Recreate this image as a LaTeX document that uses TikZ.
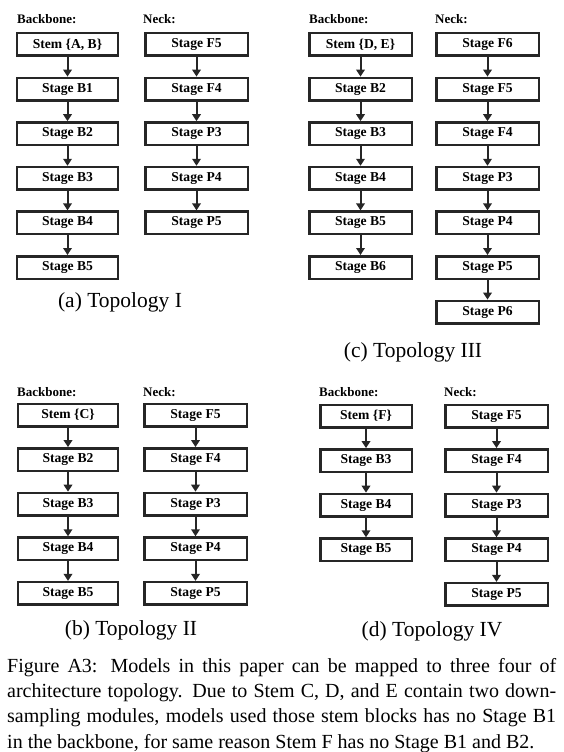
\documentclass[tikz,border=0pt]{standalone}
\usepackage{fontspec}
\setmainfont{Liberation Serif}
\usepackage{tikz}
\usetikzlibrary{arrows.meta}
\usetikzlibrary{positioning}
\tikzset{stage/.style={draw=black!85,line width=2.5pt,minimum width=102.5pt,minimum height=22.5pt,inner sep=0pt,font=\fontsize{13.6}{15}\selectfont\bfseries}}
\tikzset{flow/.style={draw=black!85,line width=2pt,-{Triangle[length=7pt,width=8.5pt]}}}
\tikzset{head/.style={anchor=base west,inner sep=0pt,font=\fontsize{13}{15}\selectfont\bfseries}}
\tikzset{sub/.style={inner sep=0pt,font=\fontsize{21.5}{24}\selectfont}}
\begin{document}
\begin{tikzpicture}[x=1pt,y=-1pt]
\useasboundingbox (0,0) rectangle (563,752);

% (a) Topology I
\node (Ahb) at (17,24) [head] {Backbone:};
\node (Ahn) at (143,24) [head] {Neck:};
\foreach \lbl [count=\i] in {{Stem \{A, B\}},Stage B1,Stage B2,Stage B3,Stage B4,Stage B5}
	\node (Ab\i) at (67.5,44.6*\i-0.1) [stage,minimum width=101pt] {\lbl};
\foreach \lbl [count=\i] in {Stage F5,Stage F4,Stage P3,Stage P4,Stage P5}
	\node (An\i) at (196.5,44.6*\i-0.1) [stage] {\lbl};
\foreach \i / \j in {1/2,2/3,3/4,4/5,5/6}
	\draw[flow] (Ab\i) -- (Ab\j);
\foreach \i / \j in {1/2,2/3,3/4,4/5}
	\draw[flow] (An\i) -- (An\j);
\node (Acap) at (120,302) [sub] {(a) Topology I};

% (c) Topology III
\node (Chb) at (309,24) [head] {Backbone:};
\node (Chn) at (435,24) [head] {Neck:};
\foreach \lbl [count=\i] in {{Stem \{D, E\}},Stage B2,Stage B3,Stage B4,Stage B5,Stage B6}
	\node (Cb\i) at (360.5,44.6*\i-0.1) [stage] {\lbl};
\foreach \lbl [count=\i] in {Stage F6,Stage F5,Stage F4,Stage P3,Stage P4,Stage P5,Stage P6}
	\node (Cn\i) at (487.5,44.6*\i-0.1) [stage] {\lbl};
\foreach \i / \j in {1/2,2/3,3/4,4/5,5/6}
	\draw[flow] (Cb\i) -- (Cb\j);
\foreach \i / \j in {1/2,2/3,3/4,4/5,5/6,6/7}
	\draw[flow] (Cn\i) -- (Cn\j);
\node (Ccap) at (413,352) [sub] {(c) Topology III};

% (b) Topology II
\node (Bhb) at (17,396) [head] {Backbone:};
\node (Bhn) at (143,396) [head] {Neck:};
\foreach \lbl [count=\i] in {{Stem \{C\}},Stage B2,Stage B3,Stage B4,Stage B5}
	\node (Bb\i) at (68,370.4+44.6*\i) [stage,minimum width=100pt] {\lbl};
\foreach \lbl [count=\i] in {Stage F5,Stage F4,Stage P3,Stage P4,Stage P5}
	\node (Bn\i) at (195.5,370.4+44.6*\i) [stage] {\lbl};
\foreach \i / \j in {1/2,2/3,3/4,4/5}
{
	\draw[flow] (Bb\i) -- (Bb\j);
	\draw[flow] (Bn\i) -- (Bn\j);
}
\node (Bcap) at (131,630) [sub] {(b) Topology II};

% (d) Topology IV
\node (Dhb) at (319,396) [head] {Backbone:};
\node (Dhn) at (444,396) [head] {Neck:};
\foreach \lbl [count=\i] in {{Stem \{F\}},Stage B3,Stage B4,Stage B5}
	\node (Db\i) at (366,371.4+44.6*\i) [stage,minimum width=91.5pt] {\lbl};
\foreach \lbl [count=\i] in {Stage F5,Stage F4,Stage P3,Stage P4,Stage P5}
	\node (Dn\i) at (496.5,371.4+44.6*\i) [stage] {\lbl};
\foreach \i / \j in {1/2,2/3,3/4}
	\draw[flow] (Db\i) -- (Db\j);
\foreach \i / \j in {1/2,2/3,3/4,4/5}
	\draw[flow] (Dn\i) -- (Dn\j);
\node (Dcap) at (432,631) [sub] {(d) Topology IV};

% caption
\node (fig) at (7,658) [anchor=north west,inner sep=0pt,text width=549pt,align=justify,font=\fontsize{20}{25.3}\selectfont] {Figure A3: Models in this paper can be mapped to three four of\linebreak architecture topology. Due to Stem C, D, and E contain two down-\linebreak sampling modules, models used those stem blocks has no Stage B1\linebreak in the backbone, for same reason Stem F has no Stage B1 and B2.};
\end{tikzpicture}
\end{document}
